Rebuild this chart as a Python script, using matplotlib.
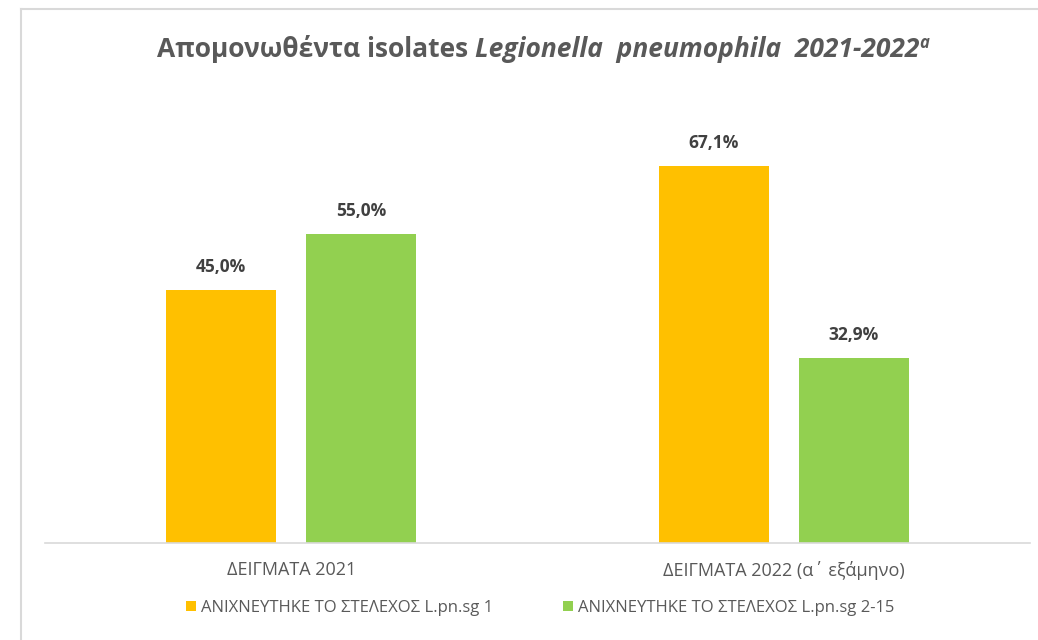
import numpy as np
from matplotlib import pyplot as plt
from matplotlib.lines import Line2D

# δεδομένα
categories = ['ΔΕΙΓΜΑΤΑ 2021', 'ΔΕΙΓΜΑΤΑ 2022 (α΄ εξάμηνο)']
series_names = ['ΑΝΙΧΝΕΥΤΗΚΕ ΤΟ ΣΤΕΛΕΧΟΣ L.pn.sg 1',
                'ΑΝΙΧΝΕΥΤΗΚΕ ΤΟ ΣΤΕΛΕΧΟΣ L.pn.sg 2-15']
sg1 = [45.0, 67.1]
sg2_15 = [55.0, 32.9]
colors = ['#FFC000', '#92D050']

plt.rcParams['font.family'] = ['Open Sans', 'DejaVu Sans']

fig = plt.figure(figsize=(10.38, 6.4), dpi=100)
W, H = 1038, 640
ax = fig.add_axes([45 / W, 1 - 543 / H, 985 / W, 450 / H])

x = np.arange(len(categories))
w = 0.223
off = 0.142
b1 = ax.bar(x - off, sg1, w, color=colors[0], label=series_names[0])
b2 = ax.bar(x + off, sg2_15, w, color=colors[1], label=series_names[1])

for bars, vals in [(b1, sg1), (b2, sg2_15)]:
    for b, v in zip(bars, vals):
        ax.annotate(('%.1f%%' % v).replace('.', ','),
                    (b.get_x() + b.get_width() / 2, v),
                    xytext=(0, 10), textcoords='offset points',
                    ha='center', va='bottom', fontsize=12.5,
                    fontweight='bold', color='#404040')

ax.set_xlim(-0.5, 1.5)
ax.set_ylim(0, 80)
ax.set_yticks([])
ax.set_xticks(x)
ax.set_xticklabels(categories, fontsize=13, color='#595959')
ax.tick_params(axis='x', length=0, pad=13)
for s in ['top', 'right', 'left']:
    ax.spines[s].set_visible(False)
ax.spines['bottom'].set_color('#d9d9d9')
ax.spines['bottom'].set_linewidth(1.2)

# τίτλος σε κομμάτια (κανονικά / πλάγια)
pieces = [('Απομονωθέντα isolates ', 'normal', 19, 0),
          ('Legionella  pneumophila  2021-2022', 'italic', 19, 0),
          ('a', 'italic', 12, 9)]
fig.canvas.draw()
r = fig.canvas.get_renderer()
texts = []
for s, st, fs, dy in pieces:
    t = fig.text(0, 0, s, fontsize=fs, fontstyle=st, fontweight='bold',
                 color='#595959', va='baseline')
    texts.append((t, dy))
widths = [t.get_window_extent(r).width for t, _ in texts]
xpos = (W - sum(widths)) / 2 + 24
for (t, dy), wd in zip(texts, widths):
    t.set_position((xpos / W, (H - 57 + dy) / H))
    xpos += wd

leg = fig.legend(handles=[b1, b2], loc='center', bbox_to_anchor=(0.52, 1 - 608 / H),
                 ncol=2, frameon=False, fontsize=12, handlelength=0.6,
                 handleheight=0.6, handletextpad=0.3, columnspacing=4.2)
for t in leg.get_texts():
    t.set_color('#595959')

# περίγραμμα
fig.add_artist(Line2D([21 / W, 21 / W], [0, 1 - 9 / H], color='#d9d9d9', lw=1.5))
fig.add_artist(Line2D([21 / W, 1], [1 - 9 / H, 1 - 9 / H], color='#d9d9d9', lw=1.5))

plt.savefig('out.png', dpi=100)
